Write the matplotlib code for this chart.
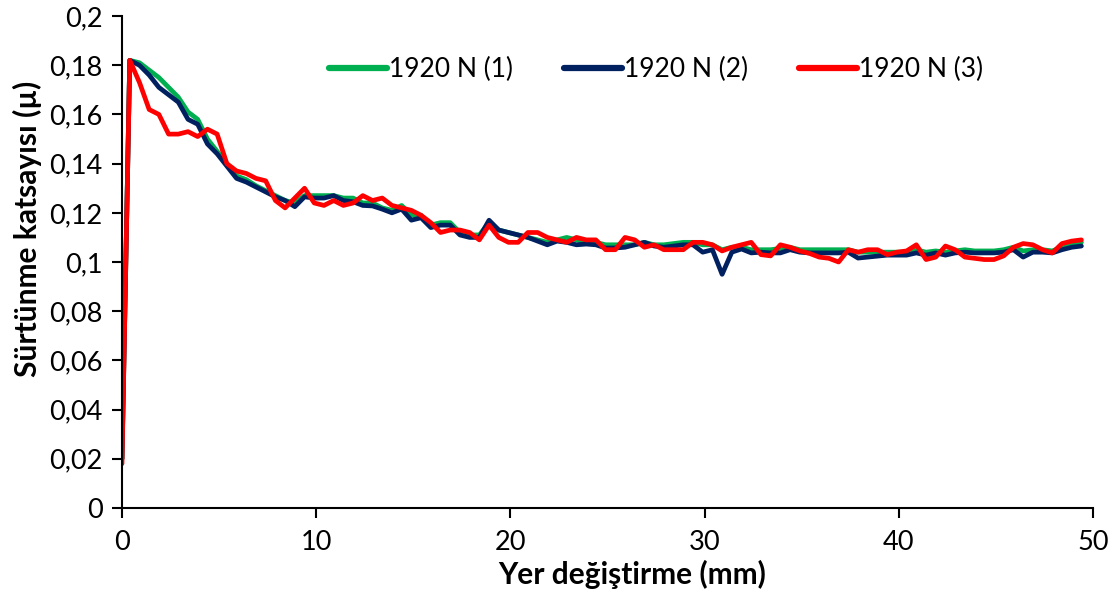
import numpy as np
import matplotlib
matplotlib.use("Agg")
import matplotlib.pyplot as plt
from matplotlib.ticker import FuncFormatter

plt.rcParams['font.family'] = ['Lato', 'DejaVu Sans']

# x positions (mm)
x = [0.0] + [round(0.4 + 0.5 * k, 2) for k in range(99)]

s1 = [0.020,
      0.182, 0.181, 0.178, 0.175, 0.171, 0.167, 0.161, 0.158, 0.150, 0.145,
      0.140, 0.135, 0.1335, 0.131, 0.129, 0.127, 0.125, 0.124, 0.127, 0.127,
      0.127, 0.127, 0.126, 0.126, 0.124, 0.124, 0.122, 0.121, 0.123, 0.119,
      0.119, 0.115, 0.116, 0.116, 0.112, 0.111, 0.111, 0.116, 0.113, 0.112,
      0.111, 0.110, 0.109, 0.108, 0.109, 0.110, 0.109, 0.108, 0.108, 0.107,
      0.107, 0.107, 0.107, 0.108, 0.107, 0.107, 0.1075, 0.108, 0.108, 0.107,
      0.107, 0.105, 0.106, 0.106, 0.105, 0.105, 0.105, 0.1055, 0.106, 0.105,
      0.105, 0.105, 0.105, 0.105, 0.105, 0.104, 0.104, 0.104, 0.104, 0.104,
      0.104, 0.105, 0.104, 0.1045, 0.104, 0.1045, 0.105, 0.1045, 0.1045, 0.1045,
      0.105, 0.106, 0.1045, 0.105, 0.105, 0.1045, 0.106, 0.1075, 0.108]

s2 = [0.020,
      0.182, 0.180, 0.176, 0.171, 0.168, 0.165, 0.158, 0.156, 0.148, 0.144,
      0.139, 0.134, 0.1325, 0.1305, 0.1285, 0.1265, 0.125, 0.1225, 0.1265, 0.126,
      0.126, 0.127, 0.125, 0.1245, 0.123, 0.1228, 0.1215, 0.120, 0.1215, 0.117,
      0.118, 0.114, 0.115, 0.115, 0.111, 0.110, 0.110, 0.117, 0.113, 0.112,
      0.111, 0.110, 0.1085, 0.107, 0.1085, 0.108, 0.107, 0.1073, 0.107, 0.1057,
      0.1057, 0.106, 0.107, 0.108, 0.1065, 0.106, 0.1065, 0.107, 0.107, 0.104,
      0.105, 0.095, 0.104, 0.1053, 0.1037, 0.104, 0.1037, 0.1037, 0.105, 0.104,
      0.1037, 0.1037, 0.1037, 0.1037, 0.104, 0.1016, 0.102, 0.1024, 0.1028, 0.1028,
      0.1028, 0.1037, 0.1028, 0.1037, 0.1028, 0.1037, 0.104, 0.1037, 0.1037, 0.1037,
      0.104, 0.105, 0.102, 0.104, 0.104, 0.1037, 0.105, 0.106, 0.1065]

s3 = [0.018,
      0.182, 0.173, 0.162, 0.160, 0.152, 0.152, 0.153, 0.151, 0.154, 0.152,
      0.140, 0.137, 0.136, 0.134, 0.133, 0.125, 0.122, 0.126, 0.130, 0.124,
      0.123, 0.125, 0.123, 0.124, 0.127, 0.125, 0.126, 0.123, 0.122, 0.121,
      0.119, 0.116, 0.112, 0.113, 0.113, 0.112, 0.109, 0.115, 0.110, 0.108,
      0.108, 0.112, 0.112, 0.110, 0.109, 0.108, 0.110, 0.109, 0.109, 0.105,
      0.105, 0.110, 0.109, 0.106, 0.107, 0.105, 0.105, 0.105, 0.108, 0.108,
      0.107, 0.1045, 0.106, 0.107, 0.108, 0.103, 0.1025, 0.107, 0.106, 0.1045,
      0.1035, 0.102, 0.1015, 0.100, 0.105, 0.104, 0.105, 0.105, 0.103, 0.104,
      0.1045, 0.107, 0.101, 0.102, 0.1065, 0.105, 0.102, 0.1015, 0.101, 0.101,
      0.1025, 0.106, 0.1075, 0.107, 0.105, 0.1037, 0.1075, 0.1085, 0.109]

labels = ["1920 N (1)", "1920 N (2)", "1920 N (3)"]
colors = ["#00B050", "#002060", "#FF0000"]

xticks = [0, 10, 20, 30, 40, 50]
yticks = [0, 0.02, 0.04, 0.06, 0.08, 0.1, 0.12, 0.14, 0.16, 0.18, 0.2]

fig = plt.figure(figsize=(11.14, 5.94), dpi=100)
ax = fig.add_axes([0.1095, 0.1448, 0.8717, 0.8282])

for s, lab, c in zip([s1, s2, s3], labels, colors):
    ax.plot(x, s, color=c, lw=3.4, label=lab, solid_joinstyle='round', solid_capstyle='round')

ax.set_xlim(0, 50)
ax.set_ylim(0, 0.2)
ax.set_xticks(xticks)
ax.set_yticks(yticks)

def fmt(v, pos):
    s = ('%.2f' % v).rstrip('0').rstrip('.')
    return s.replace('.', ',')

ax.yaxis.set_major_formatter(FuncFormatter(fmt))
ax.xaxis.set_major_formatter(FuncFormatter(lambda v, p: '%d' % v))

for sp in ['top', 'right']:
    ax.spines[sp].set_visible(False)
for sp in ['left', 'bottom']:
    ax.spines[sp].set_linewidth(1.5)
    ax.spines[sp].set_color('black')

ax.tick_params(axis='both', direction='out', length=7, width=1.5, labelsize=19.5, colors='black')
ax.tick_params(axis='x', pad=9)
ax.tick_params(axis='y', pad=7)

ax.set_xlabel("Yer değiştirme (mm)", fontsize=21.5, fontweight='bold')
ax.set_ylabel("Sürtünme katsayısı (µ)", fontsize=21.5, fontweight='bold')
ax.xaxis.set_label_coords(0.525, -0.106)
ax.yaxis.set_label_coords(-0.082, 0.567)

leg = ax.legend(loc='upper center', bbox_to_anchor=(0.55, 0.965), ncol=3, frameon=False,
                fontsize=19, handlelength=2.2, handletextpad=0.1, columnspacing=1.9)
for h in leg.legend_handles:
    h.set_linewidth(4.5)

fig.savefig("out.png", dpi=100)
